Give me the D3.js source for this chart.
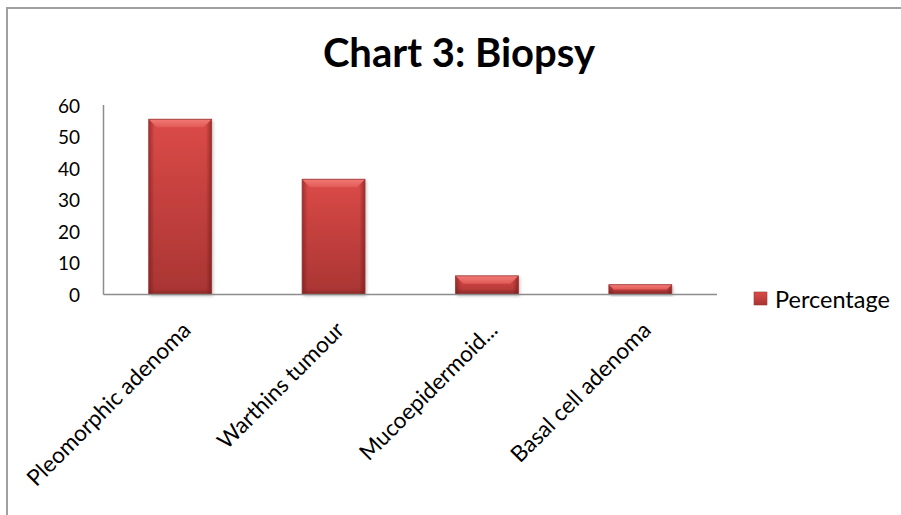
<!DOCTYPE html>
<html>
<head>
<meta charset="utf-8">
<script src="https://cdn.jsdelivr.net/npm/d3@7"></script>
<style>
  body { margin: 0; background: #fff; }
  svg { display: block; }
  text { font-family: Lato, "Open Sans", sans-serif; fill: #000; }
</style>
</head>
<body>
<svg id="chart" width="901" height="515"></svg>
<script>
const title = 'Chart 3: Biopsy'
const seriesName = 'Percentage'
const categories = ['Pleomorphic adenoma', 'Warthins tumour', 'Mucoepidermoid...', 'Basal cell adenoma']
const percentages = [55.5, 36.5, 5.9, 3.1]
const yTicks = [0, 10, 20, 30, 40, 50, 60]

let svg = d3.select('#chart')
let plotLeft = 103.5, plotRight = 717, plotTop = 105, plotBottom = 294.5

// outer frame, cut by the window on the right and bottom
svg.append('rect')
  .attr('x', 7).attr('y', 8)
  .attr('width', 1000).attr('height', 600)
  .attr('fill', 'none')
  .attr('stroke', '#a0a0a0')
  .attr('stroke-width', 2)

let defs = svg.append('defs')
let vg = defs.append('linearGradient').attr('id', 'barFill')
  .attr('x1', 0).attr('y1', 0).attr('x2', 0).attr('y2', 1)
vg.append('stop').attr('offset', '0%').attr('stop-color', '#db4a48')
vg.append('stop').attr('offset', '100%').attr('stop-color', '#a93533')
let hg = defs.append('linearGradient').attr('id', 'barSide')
  .attr('x1', 0).attr('y1', 0).attr('x2', 1).attr('y2', 0)
hg.append('stop').attr('offset', '0%').attr('stop-color', '#5a1010').attr('stop-opacity', 0.45)
hg.append('stop').attr('offset', '9%').attr('stop-color', '#5a1010').attr('stop-opacity', 0)
hg.append('stop').attr('offset', '91%').attr('stop-color', '#5a1010').attr('stop-opacity', 0)
hg.append('stop').attr('offset', '100%').attr('stop-color', '#5a1010').attr('stop-opacity', 0.5)
let tg = defs.append('linearGradient').attr('id', 'barTop')
  .attr('x1', 0).attr('y1', 0).attr('x2', 0).attr('y2', 1)
tg.append('stop').attr('offset', '0%').attr('stop-color', '#f27a76')
tg.append('stop').attr('offset', '100%').attr('stop-color', '#e05a56')
let bg = defs.append('linearGradient').attr('id', 'barBottom')
  .attr('x1', 0).attr('y1', 0).attr('x2', 0).attr('y2', 1)
bg.append('stop').attr('offset', '0%').attr('stop-color', '#8a2826').attr('stop-opacity', 0)
bg.append('stop').attr('offset', '100%').attr('stop-color', '#6a1816').attr('stop-opacity', 0.6)
defs.append('filter').attr('id', 'shadow')
  .attr('x', '-20%').attr('y', '-20%').attr('width', '140%').attr('height', '140%')
  .append('feDropShadow')
  .attr('dx', 1.5).attr('dy', 1.5).attr('stdDeviation', 1.5)
  .attr('flood-color', '#000').attr('flood-opacity', 0.25)

let x = d3.scaleBand()
  .domain(categories)
  .range([plotLeft, plotRight])
  .paddingInner(0.59)
  .paddingOuter(0.295)

let y = d3.scaleLinear()
  .domain([0, 60])
  .range([plotBottom, plotTop])

// title
svg.append('text')
  .attr('x', 459).attr('y', 67)
  .attr('text-anchor', 'middle')
  .attr('font-weight', 'bold')
  .attr('font-size', 40)
  .text(title)

// y axis labels (no tick marks)
svg.append('g').selectAll('text')
  .data(yTicks)
  .join('text')
  .attr('x', 80)
  .attr('y', d => y(d))
  .attr('text-anchor', 'end')
  .attr('dominant-baseline', 'central')
  .attr('font-size', 19)
  .text(d => d)

// bars
let bars = svg.append('g').selectAll('g')
  .data(percentages)
  .join('g')
  .attr('transform', (d, i) => `translate(${x(categories[i])},${y(d)})`)

bars.append('rect')
  .attr('width', x.bandwidth())
  .attr('height', d => y(0) - y(d))
  .attr('fill', 'url(#barFill)')
  .attr('filter', 'url(#shadow)')
bars.append('rect')
  .attr('width', x.bandwidth())
  .attr('height', d => y(0) - y(d))
  .attr('fill', 'url(#barSide)')
bars.append('rect')
  .attr('y', d => Math.max(0, y(0) - y(d) - 6))
  .attr('width', x.bandwidth())
  .attr('height', d => Math.min(6, y(0) - y(d)))
  .attr('fill', 'url(#barBottom)')
bars.append('path')
  .attr('d', d => {
    let w = x.bandwidth(), h = Math.min(8, (y(0) - y(d)) / 2)
    return `M0,0 L${w},0 L${w - h},${h} L${h},${h} Z`
  })
  .attr('fill', 'url(#barTop)')
bars.append('rect')
  .attr('width', x.bandwidth())
  .attr('height', d => y(0) - y(d))
  .attr('fill', 'none')
  .attr('stroke', '#9a3a38')
  .attr('stroke-width', 0.8)

// axis lines
svg.append('line')
  .attr('x1', plotLeft).attr('x2', plotLeft)
  .attr('y1', plotTop).attr('y2', plotBottom)
  .attr('stroke', '#8c8c8c').attr('stroke-width', 1.5)
svg.append('line')
  .attr('x1', plotLeft).attr('x2', plotRight)
  .attr('y1', plotBottom).attr('y2', plotBottom)
  .attr('stroke', '#8c8c8c').attr('stroke-width', 1.5)

// category labels rotated
svg.append('g').selectAll('text')
  .data(categories)
  .join('text')
  .attr('transform', d => `translate(${x(d) + x.bandwidth() / 2 + 6},${plotBottom + 31}) rotate(-45)`)
  .attr('text-anchor', 'end')
  .attr('dominant-baseline', 'central')
  .attr('font-size', 22.5)
  .text(d => d)

// legend
let legend = svg.append('g').attr('transform', 'translate(754,292)')
legend.append('rect')
  .attr('width', 13).attr('height', 13)
  .attr('fill', 'url(#barFill)')
  .attr('stroke', '#9a3a38').attr('stroke-width', 0.6)
legend.append('text')
  .attr('x', 21).attr('y', 7)
  .attr('dominant-baseline', 'central')
  .attr('font-size', 23.5)
  .text(seriesName)
</script>
</body>
</html>
